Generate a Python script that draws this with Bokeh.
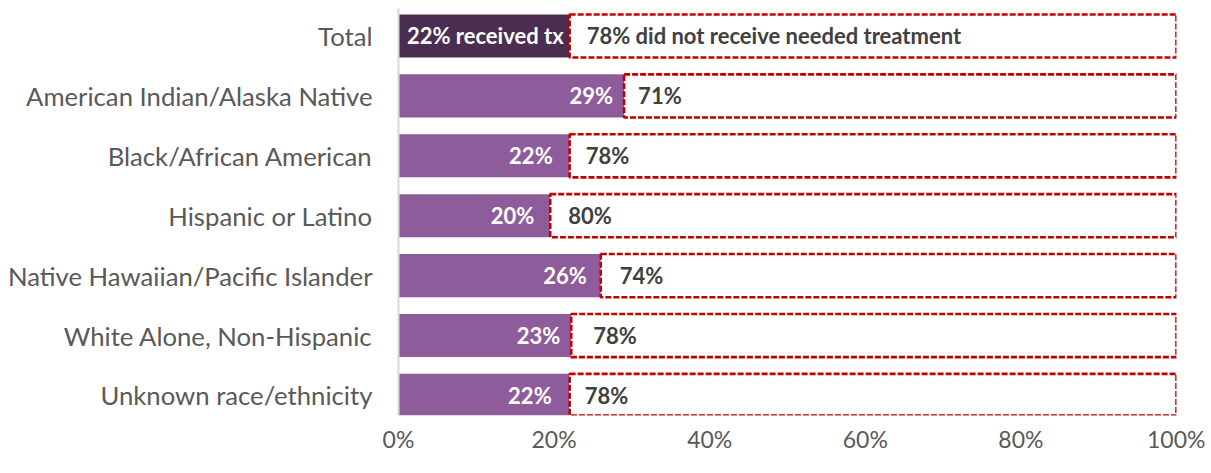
from bokeh.plotting import figure
from bokeh.models import Range1d, FixedTicker, ColumnDataSource, NumeralTickFormatter
from bokeh.core.properties import value
from bokeh.embed import file_html
from bokeh.resources import INLINE

categories = ["Total", "American Indian/Alaska Native", "Black/African American",
              "Hispanic or Latino", "Native Hawaiian/Pacific Islander",
              "White Alone, Non-Hispanic", "Unknown race/ethnicity"]
received = [0.22, 0.29, 0.22, 0.195, 0.26, 0.222, 0.22]
not_received = [0.78, 0.71, 0.78, 0.805, 0.74, 0.778, 0.78]
received_labels = ["22% received tx", "29%", "22%", "20%", "26%", "23%", "22%"]
not_received_labels = ["78% did not receive needed treatment", "71%", "78%", "80%", "74%", "78%", "78%"]
x_ticks = [0, 0.2, 0.4, 0.6, 0.8, 1.0]

FONT = "Lato"
ys = list(range(len(categories)))
colors = ["#4a2d50"] + ["#8f5c9b"] * (len(categories) - 1)
rec_offsets = [-6, -11, -17, -16, -14, -11, -18]
nrec_offsets = [17, 14, 16, 18, 19, 22, 15]
src = ColumnDataSource(dict(
    y=ys, rec=received, left2=received,
    right2=[r + n for r, n in zip(received, not_received)],
    color=colors, rl=received_labels, nl=not_received_labels,
    roff=rec_offsets, noff=nrec_offsets,
))

p = figure(width=1205, height=465, output_backend="svg", toolbar_location=None,
           x_range=Range1d(0, 1), y_range=Range1d(6.335, -0.459),
           min_border_left=398, min_border_right=29, min_border_top=8, min_border_bottom=50)
p.outline_line_color = None
p.grid.grid_line_color = None

p.hbar(y="y", left=0, right="rec", height=0.72, fill_color="color", line_color=None, source=src)
p.hbar(y="y", left="left2", right="right2", height=0.72, fill_color="white",
       line_color="#c00000", line_width=2.6, line_dash="6 2", source=src)

p.text(x="rec", y="y", text="rl", x_offset="roff", text_align="right", text_baseline="middle",
       text_color="white", text_font=value(FONT), text_font_style="bold",
       text_font_size="22px", source=src)
p.text(x="left2", y="y", text="nl", x_offset="noff", text_align="left", text_baseline="middle",
       text_color="#404040", text_font=value(FONT), text_font_style="bold",
       text_font_size="22px", source=src)

xa = p.xaxis[0]
xa.ticker = FixedTicker(ticks=x_ticks)
xa.formatter = NumeralTickFormatter(format="0%")
xa.axis_line_color = None
xa.major_tick_line_color = None
xa.major_tick_out = 0
xa.major_tick_in = 0
xa.minor_tick_line_color = None
xa.major_label_text_font = FONT
xa.major_label_text_font_size = "23px"
xa.major_label_text_color = "#595959"
xa.major_label_standoff = 9

ya = p.yaxis[0]
ya.ticker = FixedTicker(ticks=ys)
ya.major_label_overrides = {i: c for i, c in enumerate(categories)}
ya.axis_line_color = "#d9d9d9"
ya.axis_line_width = 2
ya.major_tick_line_color = None
ya.major_tick_out = 0
ya.major_tick_in = 0
ya.minor_tick_line_color = None
ya.major_label_text_font = FONT
ya.major_label_text_font_size = "25.7px"
ya.major_label_text_color = "#595959"
ya.major_label_standoff = 26

open("out.html", "w").write(file_html(p, INLINE))
